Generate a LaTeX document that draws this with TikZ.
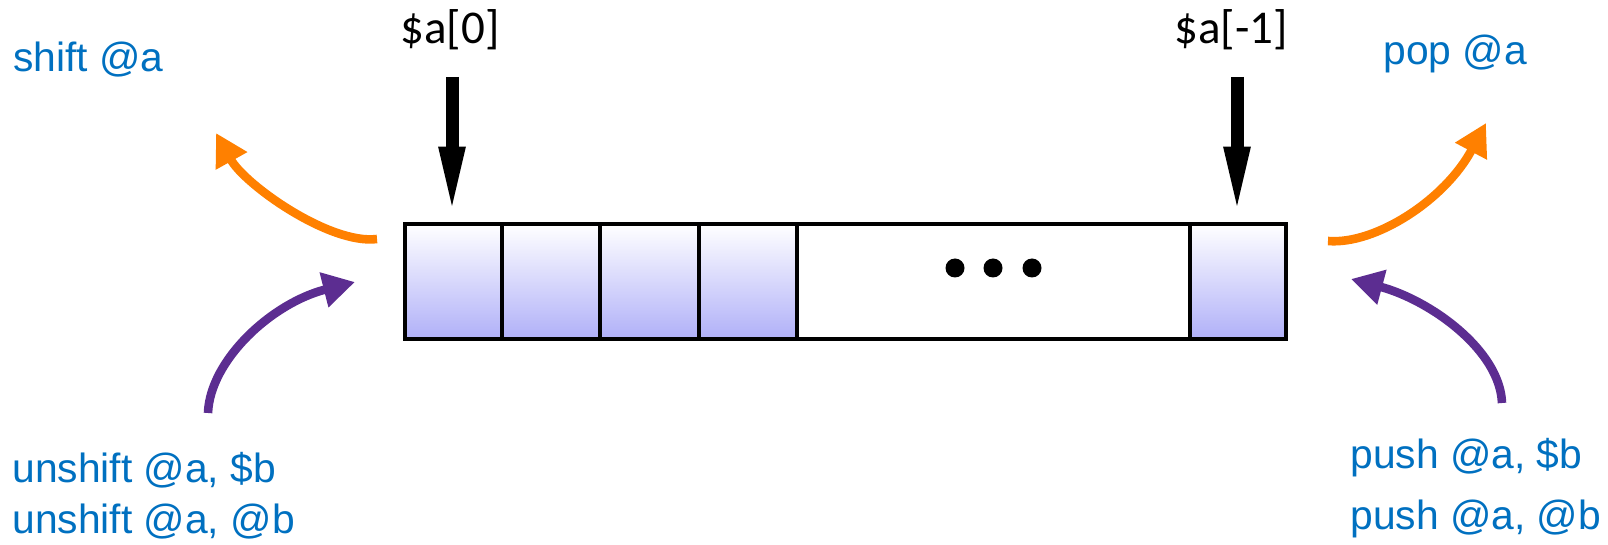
\documentclass[tikz,border=0pt]{standalone}
\usepackage{fontspec}
\setmainfont{Liberation Sans}
\newfontfamily\calib{Carlito}
\usetikzlibrary{arrows.meta}
\definecolor{opblue}{RGB}{0,112,192}
\definecolor{oporange}{RGB}{255,128,0}
\definecolor{oppurple}{RGB}{92,45,145}
\definecolor{cellblue}{RGB}{176,176,248}
\begin{document}
\begin{tikzpicture}[x=0.5pt,y=-0.5pt,
  cell/.style={draw=black, line width=2.3pt, inner sep=0pt, minimum height=57.5pt, top color=white, bottom color=cellblue},
  gapcell/.style={draw=black, line width=2.3pt, inner sep=0pt, minimum height=57.5pt, fill=white},
  dotmark/.style={circle, fill=black, inner sep=0pt, minimum size=9.5pt},
  op/.style={text=opblue, font=\fontsize{20.4}{24}\selectfont, inner sep=0pt, anchor=base west},
  idx/.style={font=\calib\fontsize{23.5}{28}\selectfont, inner sep=0pt, anchor=base},
  ptr/.style={line width=6.5pt, -{Triangle[length=36pt,width=11.5pt]}, shorten >=1.5pt},
  outarrow/.style={line width=4.3pt, draw=oporange, -{Triangle[length=16pt,width=17pt]}},
  inarrow/.style={line width=4.3pt, draw=oppurple, -{Triangle[length=16pt,width=17pt]}},
]
\useasboundingbox (0,0) rectangle (1608,545);

% array cells
\node[cell, minimum width=48.5pt] (c1) at (453.5,281.5) {};
\node[cell, minimum width=49pt]   (c2) at (551,281.5) {};
\node[cell, minimum width=49.5pt] (c3) at (649.5,281.5) {};
\node[cell, minimum width=49pt]   (c4) at (748,281.5) {};
\node[gapcell, minimum width=196.5pt] (c5) at (993.5,281.5) {};
\node[cell, minimum width=48pt]   (c6) at (1238,281.5) {};

% dots
\node[dotmark] (d1) at (955,268) {};
\node[dotmark] (d2) at (993,268) {};
\node[dotmark] (d3) at (1032,268) {};

% index labels and pointers
\node[idx] (l0) at (450,44) {\$a[0]};
\node[idx] (l1) at (1231,44) {\$a[-1]};
\coordinate (p0) at (452,77);
\coordinate (p1) at (1237,77);
\draw[ptr] (p0) -- (p0 |- c1.north);
\draw[ptr] (p1) -- (p1 |- c6.north);

% operation labels
\node[op] (shift) at (13,72) {shift @a};
\node[op] (pop) at (1383,65) {pop @a};
\node[op] (uns1) at (12,482) {unshift @a, \$b};
\node[op] (uns2) at (12,533) {unshift @a, @b};
\node[op] (push1) at (1350,468) {push @a, \$b};
\node[op] (push2) at (1350,530) {push @a, @b};

% curved arrows
\coordinate (sa) at (377,239);
\coordinate (sb) at (216,133);
\draw[outarrow] (sa) .. controls (330,245) and (245,185) .. (sb);

\coordinate (ua) at (208,413);
\coordinate (ub) at (355,282);
\draw[inarrow] (ua) .. controls (210,360) and (272,303) .. (ub);

\coordinate (pa) at (1328,241);
\coordinate (pb) at (1486,123);
\draw[outarrow] (pa) .. controls (1375,245) and (1445,200) .. (pb);

\coordinate (qa) at (1502,403);
\coordinate (qb) at (1351,279);
\draw[inarrow] (qa) .. controls (1500,350) and (1430,300) .. (qb);
\end{tikzpicture}
\end{document}
